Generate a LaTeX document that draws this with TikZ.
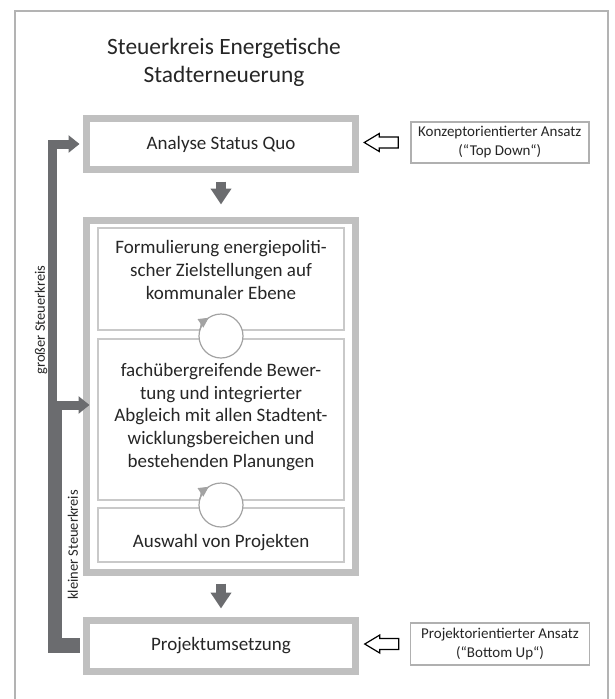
\documentclass[tikz,border=0pt]{standalone}
\usepackage{fontspec}
\setmainfont{Carlito}
\usetikzlibrary{arrows.meta,calc}
\definecolor{thickgray}{HTML}{C0C0C0}
\definecolor{thingray}{HTML}{C9C9C9}
\definecolor{darkbar}{HTML}{6B6C6F}
\definecolor{txt}{HTML}{262626}
\definecolor{circgray}{HTML}{A3A3A3}
\definecolor{framegray}{HTML}{B3B3B3}
\definecolor{smallgray}{HTML}{B0B0B0}
\begin{document}
\begin{tikzpicture}[x=1pt,y=-1pt,
  mainbox/.style={draw=thickgray, line width=7pt, fill=white, inner sep=0pt, minimum width=269pt},
  innerbox/.style={draw=thingray, line width=2pt, inner sep=0pt, minimum width=246pt},
  smallbox/.style={draw=smallgray, line width=1.5pt, fill=white, inner sep=0pt, text=txt,
    align=center, font=\fontsize{15}{19}\selectfont},
  boxtext/.style={text=txt, align=center, inner sep=0pt, font=\fontsize{19}{22.7}\selectfont},
  sidelabel/.style={text=txt, rotate=90, inner sep=0pt, font=\fontsize{14.5}{17}\selectfont},
  flowarrow/.style={draw=darkbar, line width=10pt, -{Triangle[width=20pt,length=16pt]}},
  loopconn/.style={draw=darkbar, line width=9pt, line join=miter, -{Triangle[width=17pt,length=11pt]}},
  hollow/.style={draw=black, line width=1.2pt, fill=white, line join=miter},
  circnode/.style={circle, draw=circgray, line width=1.2pt, fill=white, minimum size=44pt, inner sep=0pt},
  circtip/.style={draw=circgray, fill=circgray, line width=1.2pt, -{Triangle[width=10pt,length=10pt]}}
]
\useasboundingbox (0,0) rectangle (614,699);
\fill[white] (0,0) rectangle (614,699);
% outer frame (open at bottom)
\draw[framegray, line width=2pt] (15,720) -- (15,11) -- (608,11) -- (608,720);

% title
\node[text=txt, align=center, inner sep=0pt, font=\fontsize{23.4}{28}\selectfont] (title) at (224,62)
  {Steuerkreis Energetische\\Stadterneuerung};

% main boxes
\node[mainbox, minimum height=51pt] (analyse) at (221,144) {};
\node[mainbox, minimum height=352pt] (big) at (221,396.5) {};
\node[mainbox, minimum height=51pt] (proj) at (221,646) {};

% inner boxes
\node[innerbox, minimum height=102pt] (in1) at (221,279) {};
\node[innerbox, minimum height=161pt] (in2) at (221,419.5) {};
\node[innerbox, minimum height=54pt] (in3) at (221,535) {};

% circular arrows
\node[circnode] (c1) at (221,336) {};
\node[circnode] (c2) at (221,505) {};
\draw[circtip] (c1.center) ++(195:22) arc[start angle=195, end angle=236, radius=22];
\draw[circtip] (c2.center) ++(195:22) arc[start angle=195, end angle=236, radius=22];

% texts
\node[boxtext] (tanalyse) at (221,144) {Analyse Status Quo};
\node[boxtext] (t1) at (221,270) {Formulierung energiepoliti-\\scher Zielstellungen auf\\kommunaler Ebene};
\node[boxtext] (t2) at (221,417) {fachübergreifende Bewer-\\tung und integrierter\\Abgleich mit allen Stadtent-\\wicklungsbereichen und\\bestehenden Planungen};
\node[boxtext] (t3) at (221,543) {Auswahl von Projekten};
\node[boxtext] (tproj) at (221,646) {Projektumsetzung};

% side boxes
\node[smallbox, minimum width=178pt, minimum height=41pt] (td) at (499.75,142.5)
  {Konzeptorientierter Ansatz\\(“Top Down“)};
\node[smallbox, minimum width=179pt, minimum height=42pt] (bu) at (500,644)
  {Projektorientierter Ansatz\\(“Bottom Up“)};

% hollow arrows
\draw[hollow] ($(td.west)+(-11.75,-5.5)$) -- ++(-19,0) -- ++(0,-3.5) -- ++(-15,9) -- ++(15,9)
  -- ++(0,-3.5) -- ++(19,0) -- cycle;
\draw[hollow] ($(bu.west)+(-11,-5.5)$) -- ++(-19,0) -- ++(0,-3.5) -- ++(-15,9) -- ++(15,9)
  -- ++(0,-3.5) -- ++(19,0) -- cycle;

% flow arrows
\draw[flowarrow] ($(analyse.south)+(0,8.5)$) -- ($(big.north)+(0,-12.5)$);
\draw[flowarrow] ($(big.south)+(0,7.5)$) -- ($(proj.north)+(0,-8.5)$);

% control loops
\draw[loopconn] ($(proj.west)+(-3.5,2.5)$) -| ($(analyse.west)+(-31,0)$) -- ($(analyse.west)+(-3.5,0)$);
\draw[loopconn] ($(proj.west)+(-3.5,-3.5)$) -| ($(big.west)+(-26,8.5)$) -- ($(big.west)+(6.5,8.5)$);

% loop labels
\node[sidelabel] (lg) at (41,320) {großer Steuerkreis};
\node[sidelabel] (lk) at (73,545) {kleiner Steuerkreis};
\end{tikzpicture}
\end{document}
